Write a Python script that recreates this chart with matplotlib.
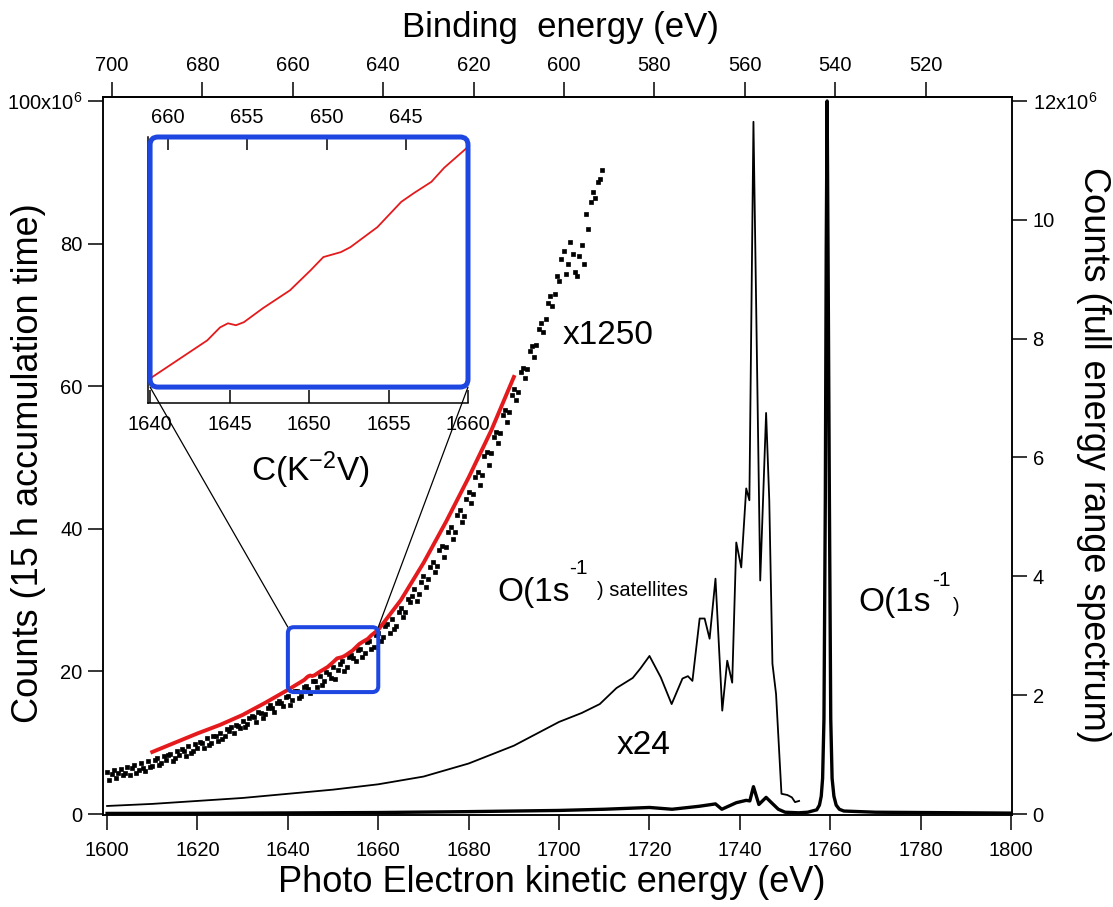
import numpy as np
import matplotlib
matplotlib.use('Agg')
import matplotlib.pyplot as plt
from matplotlib.patches import FancyBboxPatch, ConnectionPatch
from matplotlib.transforms import IdentityTransform

plt.rcParams['font.family'] = ['Liberation Sans', 'DejaVu Sans']
plt.rcParams['mathtext.fontset'] = 'custom'
plt.rcParams['mathtext.rm'] = 'Liberation Sans'
plt.rcParams['mathtext.it'] = 'Liberation Sans:italic'
plt.rcParams['mathtext.bf'] = 'Liberation Sans:bold'
plt.rcParams['axes.unicode_minus'] = False

# ---------------- data ----------------
HNU = 2301.1          # photon energy (eV): binding = HNU - kinetic
RIGHT_PER_LEFT = 0.12 # right-axis (1e6) per left-axis (1e6) unit

# x1250 spectrum (15 h accumulation), dots, left axis (x1e6)
dot_ke = np.arange(1600.0, 1710.0, 0.5)
dot_counts = [
    5.9, 4.8, 5.6, 6.2, 5.0, 5.8, 6.3, 5.4, 5.7, 6.6, 5.5, 6.4, 6.9, 5.8, 6.2, 7.1,
    6.5, 6.0, 7.4, 6.6, 6.8, 7.6, 7.9, 6.9, 7.2, 8.1, 7.6, 8.3, 8.4, 7.5, 7.9, 8.8,
    8.3, 9.1, 8.9, 8.2, 9.5, 8.6, 8.8, 9.8, 9.2, 10.1, 9.9, 9.3, 10.6, 9.7, 10.0, 11.0,
    10.9, 10.2, 11.4, 10.5, 10.9, 11.9, 11.6, 12.2, 11.3, 12.5, 12.3, 12.0,
    13.1, 12.2, 12.6, 13.5, 13.8, 13.6, 12.9, 14.3, 14.2, 13.4, 14.0, 14.9,
    15.3, 14.9, 14.3, 15.5, 15.9, 15.6, 15.1, 16.4, 16.5, 15.3, 16.0, 17.2,
    17.3, 16.3, 16.6, 17.8, 17.9, 17.6, 17.0, 18.6, 18.7, 17.8, 19.3, 18.1,
    18.6, 19.9, 19.6, 19.1, 20.6, 19.0, 20.2, 21.1, 21.4, 20.1, 20.6, 22.0,
    22.3, 21.9, 21.4, 23.0, 23.2, 22.0, 22.6, 24.1, 24.2, 23.1, 23.4, 25.1,
    25.4, 24.2, 24.8, 26.3, 26.6, 25.4, 27.4, 26.0, 26.4, 28.3, 28.9, 27.6,
    28.3, 30.2, 29.7, 30.6, 31.5, 29.9, 30.8, 32.6, 33.4, 31.8, 32.9, 34.6,
    35.3, 34.0, 34.8, 37.0, 37.6, 36.1, 37.4, 39.6, 40.2, 38.6, 39.5, 42.0,
    42.6, 41.0, 41.8, 44.2, 45.2, 43.6, 44.9, 47.3, 47.9, 46.1, 47.6, 50.2,
    50.8, 49.0, 50.6, 52.9, 53.6, 52.0, 53.4, 56.0, 56.6, 55.0, 56.4, 58.8,
    59.6, 58.0, 59.2, 62.0, 62.6, 61.1, 62.4, 65.0, 65.6, 64.1, 65.8, 68.0,
    68.9, 67.6, 69.4, 71.6, 72.6, 71.2, 73.0, 75.4, 74.8, 77.8,
    79.0, 75.8, 77.2, 80.2, 78.6, 76.0, 75.4, 78.2, 79.8, 77.2, 84.2, 82.0, 85.8, 87.2,
    86.4, 88.6, 89.0, 90.3]

# fitted background (red), left axis
red_ke = [1610, 1615, 1620, 1625, 1630, 1635, 1640.1, 1643.6, 1644.4, 1644.9, 1645.4,
          1645.9, 1647.1, 1648.8, 1650.1, 1650.9, 1652.0, 1652.6, 1654.3, 1655.8, 1656.6,
          1657.7, 1658.5, 1660.0, 1665, 1670, 1675, 1680, 1685, 1690]
red_counts = [8.7, 10.0, 11.3, 12.5, 13.9, 15.6, 17.45, 18.8, 19.27, 19.42, 19.35,
              19.46, 19.97, 20.62, 21.35, 21.83, 22.01, 22.19, 22.92, 23.84, 24.16,
              24.57, 25.08, 25.84, 30.0, 35.2, 41.0, 47.2, 53.8, 61.3]

# full energy range spectrum x24 (thin), right axis (x1e6)
x24_ke = [1600, 1610, 1620, 1630, 1640, 1650, 1660, 1670, 1680, 1690, 1695, 1700, 1705,
          1709, 1712.7, 1716.3, 1718, 1720, 1722.5, 1724.9, 1727.3, 1728.5, 1729.5,
          1731.1, 1732.2, 1733.3, 1734.6, 1736.1, 1737.2, 1738.3, 1739.2, 1740.3,
          1741.4, 1742.1, 1743.0, 1744.5, 1745.8, 1746.5, 1747.2, 1748.0, 1749.2,
          1750.5, 1751.5, 1752.2, 1753.1]
x24_counts = [0.135, 0.17, 0.22, 0.27, 0.34, 0.41, 0.50, 0.63, 0.85, 1.15, 1.35, 1.55,
              1.70, 1.85, 2.12, 2.29, 2.45, 2.66, 2.30, 1.85, 2.28, 2.32, 2.24, 3.29,
              3.29, 2.95, 3.96, 1.74, 2.58, 2.21, 4.57, 4.15, 5.48, 5.28, 11.65, 3.93,
              6.75, 5.28, 2.53, 2.02, 0.34, 0.32, 0.28, 0.20, 0.22]

# full energy range spectrum x1 (thick), right axis
full_ke = [1600, 1620, 1640, 1660, 1680, 1700, 1710, 1720, 1725, 1731, 1734.6, 1736,
           1739.2, 1741.4, 1742.2, 1743.0, 1744.2, 1745.8, 1747.0, 1748.5, 1750, 1753,
           1755, 1757.0, 1757.6, 1758.0, 1758.3, 1758.6, 1758.9, 1759.1, 1759.3,
           1759.5, 1759.8, 1760.1, 1760.4, 1760.8, 1761.3, 1762.0, 1763.0, 1770, 1800]
full_counts = [0.01, 0.012, 0.018, 0.025, 0.04, 0.06, 0.08, 0.11, 0.08, 0.13, 0.17,
               0.08, 0.19, 0.23, 0.22, 0.46, 0.16, 0.28, 0.19, 0.08, 0.03, 0.02, 0.03,
               0.07, 0.15, 0.30, 0.60, 1.6, 5.3, 9.5, 12.0, 9.5, 5.3, 1.6, 0.6, 0.3,
               0.15, 0.08, 0.05, 0.03, 0.015]

zoom_ke = [1640, 1660]
zoom_counts = [17.1, 26.2]

left_ticks = [0, 20, 40, 60, 80, 100]
left_labels = ['0', '20', '40', '60', '80', r'100x10$^{6}$']
right_ticks = [0, 2, 4, 6, 8, 10, 12]
right_labels = ['0', '2', '4', '6', '8', '10', r'12x10$^{6}$']
ke_ticks = list(range(1600, 1801, 20))
be_ticks = list(range(700, 519, -20))
inset_ke_ticks = [1640, 1645, 1650, 1655, 1660]
inset_be_ticks = [660, 655, 650, 645]

# ---------------- figure ----------------
W, H = 1113, 907
fig = plt.figure(figsize=(W / 100, H / 100), dpi=100)


def fx(x):
    return x / W


def fy(y):
    return 1 - y / H


RED = '#e41a1c'
BLUE = '#1e46e0'
TL = 10.8
TW = 1.1
FS = 14.5

ax = fig.add_axes([fx(103), fy(815), fx(1012) - fx(103), fy(97) - fy(815)])
ax.set_xlim(1599.1, 1800.2)
ax.set_ylim(-0.14, 100.56)
ax2 = ax.twinx()
ax2.set_ylim(-0.14 * RIGHT_PER_LEFT, 100.56 * RIGHT_PER_LEFT)

ax.plot(dot_ke, dot_counts, ls='none', marker='s', ms=2.3, mfc='black', mec='black',
        mew=0.5)
ax.plot(red_ke, red_counts, color=RED, lw=2.8, zorder=4)
ax2.plot(x24_ke, x24_counts, color='black', lw=1.3)
ax2.plot(full_ke, full_counts, color='black', lw=2.4)

for a in (ax, ax2):
    for s in a.spines.values():
        s.set_linewidth(TW)

ax.set_xticks(ke_ticks)
ax.tick_params(axis='x', direction='out', length=TL, width=TW, labelsize=FS, pad=8,
               top=False)
ax.set_yticks(left_ticks)
ax.set_yticklabels(left_labels)
ax.tick_params(axis='y', direction='out', length=TL, width=TW, labelsize=FS, pad=4)
ax2.set_yticks(right_ticks)
ax2.set_yticklabels(right_labels)
ax2.tick_params(axis='y', direction='out', length=TL, width=TW, labelsize=FS, pad=4)

sec = ax.secondary_xaxis('top', functions=(lambda k: HNU - k, lambda b: HNU - b))
sec.set_xticks(be_ticks)
sec.tick_params(direction='out', length=TL, width=TW, labelsize=FS, pad=5)
sec.spines['top'].set_linewidth(TW)

# ---------------- inset ----------------
ax_in = fig.add_axes([fx(148), fy(403), fx(468) - fx(148), fy(137) - fy(403)])
ax_in.set_xlim(1639.87, 1660.0)
ax_in.set_ylim(16.52, 26.2)
ax_in.plot(red_ke, red_counts, color=RED, lw=1.3)
ax_in.spines['top'].set_visible(False)
ax_in.spines['right'].set_visible(False)
ax_in.spines['left'].set_linewidth(TW)
ax_in.spines['bottom'].set_linewidth(TW)
ax_in.set_yticks([])
ax_in.set_xticks(inset_ke_ticks)
ax_in.tick_params(axis='x', direction='in', length=9.4, width=TW, labelsize=FS, pad=9)
sec_in = ax_in.secondary_xaxis('top', functions=(lambda k: HNU - k, lambda b: HNU - b))
sec_in.set_xticks(inset_be_ticks)
sec_in.tick_params(direction='in', length=9.4, width=TW, labelsize=FS, pad=7)
sec_in.spines['top'].set_visible(False)


def rounded_box(axes, xs, ys, lw, rad):
    p0 = axes.transData.transform((xs[0], ys[0]))
    p1 = axes.transData.transform((xs[1], ys[1]))
    patch = FancyBboxPatch((p0[0], p0[1]), p1[0] - p0[0], p1[1] - p0[1],
                           boxstyle=f"round,pad=0,rounding_size={rad}",
                           transform=IdentityTransform(), fill=False, ec=BLUE, lw=lw,
                           zorder=10, clip_on=False)
    fig.add_artist(patch)


rounded_box(ax, zoom_ke, zoom_counts, 2.9, 6)
rounded_box(ax_in, zoom_ke, zoom_counts, 3.6, 8)

for k in zoom_ke:
    con = ConnectionPatch(xyA=(k, zoom_counts[1]), coordsA=ax.transData,
                          xyB=(k, zoom_counts[0]), coordsB=ax_in.transData,
                          color='black', lw=0.9, zorder=5)
    fig.add_artist(con)

# ---------------- texts ----------------
fig.text(fx(310), fy(470), r'C(K$^{-2}$V)', fontsize=24, ha='center', va='center')
fig.text(fx(563), fy(335), 'x1250', fontsize=24, ha='left', va='center')
fig.text(fx(617), fy(745), 'x24', fontsize=24, ha='left', va='center')
fig.text(fx(497), fy(592), 'O(1s', fontsize=24, ha='left', va='center')
fig.text(fx(569), fy(568), '-1', fontsize=15, ha='left', va='center')
fig.text(fx(597), fy(590), ') satellites', fontsize=14.5, ha='left', va='center')
fig.text(fx(858), fy(602), 'O(1s', fontsize=24, ha='left', va='center')
fig.text(fx(932), fy(580), '-1', fontsize=15, ha='left', va='center')
fig.text(fx(953), fy(606), ')', fontsize=14.5, ha='left', va='center')

fig.text(fx(552), fy(882), 'Photo Electron kinetic energy (eV)', fontsize=26,
         ha='center', va='center')
fig.text(fx(560), fy(28), 'Binding  energy (eV)', fontsize=25, ha='center', va='center')
fig.text(fx(29), fy(463), 'Counts (15 h accumulation time)', fontsize=26, rotation=90,
         ha='center', va='center')
fig.text(fx(1094), fy(455), 'Counts (full energy range spectrum)', fontsize=26,
         rotation=270, ha='center', va='center')

fig.savefig('out.png', dpi=100)
